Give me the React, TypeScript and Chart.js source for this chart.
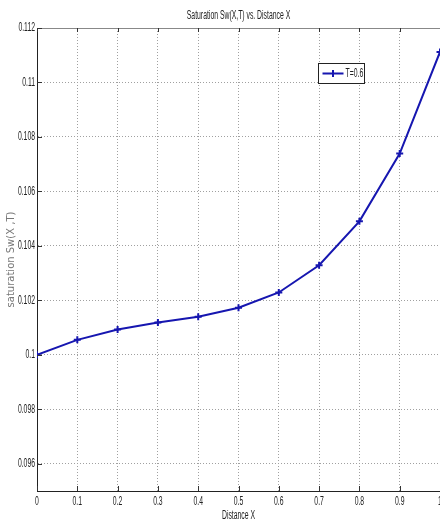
import { useEffect, useRef } from 'react';
import { Chart, registerables } from 'chart.js';

Chart.register(...registerables);

// Saturation profile along the distance axis at T = 0.6
const distanceX = [0, 0.1, 0.2, 0.3, 0.4, 0.5, 0.6, 0.7, 0.8, 0.9, 1];
const saturation = [0.1, 0.10055, 0.10093, 0.10119, 0.1014, 0.10173, 0.10229, 0.10329, 0.1049, 0.10739, 0.11112];
const seriesLabel = 'T=0.6';

const xTickValues = [0, 0.1, 0.2, 0.3, 0.4, 0.5, 0.6, 0.7, 0.8, 0.9, 1];
const xTickLabels = ['0', '0.1', '0.2', '0.3', '0.4', '0.5', '0.6', '0.7', '0.8', '0.9', '1'];
const yTickValues = [0.096, 0.098, 0.1, 0.102, 0.104, 0.106, 0.108, 0.11, 0.112];
const yTickLabels = ['0.096', '0.098', '0.1', '0.102', '0.104', '0.106', '0.108', '0.11', '0.112'];

const titleText = 'Saturation Sw(X,T) vs. Distance X';
const xTitleText = 'Distance X';
const yTitleText = 'saturation Sw(X ,T)';

const TEXT_FONT = '12px "Liberation Sans", Arial, sans-serif';
const TEXT_COLOR = '#222';
const SQUEEZE = 0.57; // horizontal squeeze of the narrow axis lettering
const LINE_COLOR = '#1616b0';

function drawNarrowText(ctx: CanvasRenderingContext2D, text: string, x: number, y: number, align: CanvasTextAlign) {
  ctx.save();
  ctx.translate(x, y);
  ctx.scale(SQUEEZE, 1);
  ctx.font = TEXT_FONT;
  ctx.fillStyle = TEXT_COLOR;
  ctx.textAlign = align;
  ctx.textBaseline = 'middle';
  ctx.fillText(text, 0, 0);
  ctx.restore();
}

// Inward tick marks on the bottom, top and left edges, plus the top frame line
const innerTicks = {
  id: 'innerTicks',
  afterDraw(chart: any) {
    const { ctx, chartArea: a, scales } = chart;
    const x = scales.x;
    const y = scales.y;
    ctx.save();
    ctx.lineWidth = 1;
    ctx.strokeStyle = '#888';
    ctx.beginPath();
    ctx.moveTo(a.left, a.top + 0.5);
    ctx.lineTo(a.right, a.top + 0.5);
    ctx.stroke();
    ctx.strokeStyle = '#333';
    ctx.beginPath();
    x.ticks.forEach((t: any) => {
      const px = Math.round(x.getPixelForValue(t.value)) + 0.5;
      ctx.moveTo(px, a.bottom);
      ctx.lineTo(px, a.bottom - 5);
      ctx.moveTo(px, a.top);
      ctx.lineTo(px, a.top + 4);
    });
    y.ticks.forEach((t: any) => {
      const py = Math.round(y.getPixelForValue(t.value)) + 0.5;
      ctx.moveTo(a.left, py);
      ctx.lineTo(a.left + 5, py);
    });
    ctx.stroke();
    ctx.restore();
  },
};

// Title, tick labels and x-axis title in narrow lettering, placed from the scales
const narrowLabels = {
  id: 'narrowLabels',
  afterDraw(chart: any) {
    const { ctx, chartArea: a, scales } = chart;
    const x = scales.x;
    const y = scales.y;
    const cx = (a.left + a.right) / 2;
    drawNarrowText(ctx, titleText, cx, 16, 'center');
    x.ticks.forEach((t: any, i: number) => {
      drawNarrowText(ctx, xTickLabels[i], x.getPixelForValue(t.value), a.bottom + 11, 'center');
    });
    y.ticks.forEach((t: any, i: number) => {
      drawNarrowText(ctx, yTickLabels[i], a.left - 2, y.getPixelForValue(t.value), 'right');
    });
    drawNarrowText(ctx, xTitleText, cx, a.bottom + 25, 'center');
  },
};

// Boxed legend in the upper right part of the plot
const boxLegend = {
  id: 'boxLegend',
  afterDraw(chart: any) {
    const { ctx, chartArea: a } = chart;
    const ds = chart.data.datasets[0];
    const bx = a.left + 281.5;
    const by = a.top + 35.5;
    const bw = 46;
    const bh = 20;
    ctx.save();
    ctx.fillStyle = '#fff';
    ctx.fillRect(bx, by, bw, bh);
    ctx.strokeStyle = '#222';
    ctx.lineWidth = 1;
    ctx.strokeRect(bx, by, bw, bh);
    const cy = by + bh / 2;
    ctx.strokeStyle = ds.borderColor;
    ctx.lineWidth = 2;
    ctx.beginPath();
    ctx.moveTo(bx + 4, cy);
    ctx.lineTo(bx + 25, cy);
    ctx.moveTo(bx + 14.5, cy - 3.5);
    ctx.lineTo(bx + 14.5, cy + 3.5);
    ctx.stroke();
    ctx.restore();
    drawNarrowText(ctx, ds.label, bx + 27, cy + 0.5, 'left');
  },
};

function SaturationChart() {
  const canvasRef = useRef<HTMLCanvasElement | null>(null);

  useEffect(() => {
    const canvas = canvasRef.current;
    if (!canvas) return;
    const chart = new Chart(canvas, {
      type: 'line',
      data: {
        datasets: [
          {
            label: seriesLabel,
            data: distanceX.map((xv, i) => ({ x: xv, y: saturation[i] })),
            borderColor: LINE_COLOR,
            backgroundColor: LINE_COLOR,
            borderWidth: 2,
            pointStyle: 'cross',
            pointRadius: 3.5,
            pointBorderWidth: 2,
            pointBorderColor: LINE_COLOR,
            tension: 0,
            fill: false,
          },
        ],
      },
      options: {
        responsive: false,
        animation: false,
        devicePixelRatio: 1,
        layout: { padding: { left: 0, right: 37, top: 28, bottom: 0 } },
        plugins: {
          legend: { display: false },
          tooltip: { enabled: false },
          title: { display: false },
        },
        scales: {
          x: {
            type: 'linear',
            min: 0,
            max: 1,
            afterBuildTicks: (s: any) => {
              s.ticks = xTickValues.map((v) => ({ value: v }));
            },
            afterFit: (s: any) => {
              s.height = 33;
            },
            ticks: { display: false },
            grid: { color: '#a0a0a0', lineWidth: 1, drawTicks: false },
            border: { display: true, color: '#222', width: 1, dash: [1, 2] },
          },
          y: {
            type: 'linear',
            min: 0.095,
            max: 0.112,
            afterBuildTicks: (s: any) => {
              s.ticks = yTickValues.map((v) => ({ value: v }));
            },
            afterFit: (s: any) => {
              s.width = 37;
            },
            ticks: { display: false },
            grid: { color: '#a0a0a0', lineWidth: 1, drawTicks: false },
            border: { display: true, color: '#222', width: 1, dash: [1, 2] },
            title: {
              display: true,
              text: yTitleText,
              color: '#777',
              font: { family: '"DejaVu Sans", sans-serif', size: 10, lineHeight: 1.2 },
              padding: { top: 5.5, bottom: 0 },
            },
          },
        },
      },
      plugins: [innerTicks, narrowLabels, boxLegend],
    } as any);
    return () => chart.destroy();
  }, []);

  return <canvas ref={canvasRef} width={477} height={524} style={{ display: 'block' }} />;
}

export default function App() {
  return (
    <div
      style={{
        position: 'fixed',
        left: 0,
        top: 0,
        width: 440,
        height: 524,
        overflow: 'hidden',
        background: '#fff',
      }}
    >
      <SaturationChart />
    </div>
  );
}
